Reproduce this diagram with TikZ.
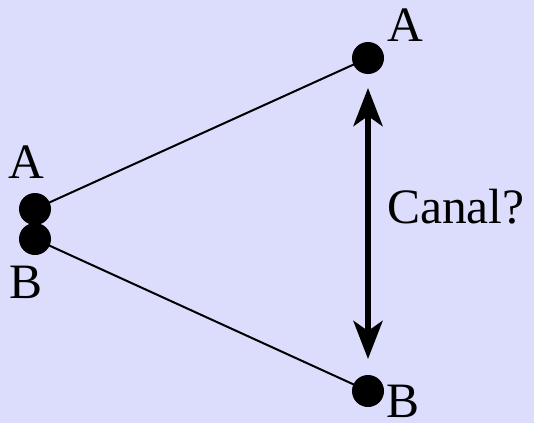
\documentclass[tikz,border=0pt]{standalone}
\usepackage{fontspec}
\setmainfont{Liberation Serif}
\usetikzlibrary{arrows.meta}
\definecolor{bg}{RGB}{220,220,252}
\begin{document}
\begin{tikzpicture}[x=1pt,y=-1pt,
  dot/.style={circle,fill=black,inner sep=0pt,minimum size=32pt},
  lbl/.style={anchor=base west,inner sep=0pt,font=\fontsize{49.5}{58}\selectfont},
  link/.style={line width=2pt},
  canal/.style={line width=6pt,{Stealth[length=38pt,width=29pt,inset=10pt]}-{Stealth[length=38pt,width=29pt,inset=10pt]}}]
\fill[bg] (0,0) rectangle (534,423);
\useasboundingbox (0,0) rectangle (534,423);
\coordinate (la) at (35,209);
\coordinate (lb) at (35,239);
\coordinate (ra) at (368,58);
\coordinate (rb) at (368,391);
\draw[link] (la) -- (ra);
\draw[link] (lb) -- (rb);
\node[dot] (dla) at (la) {};
\node[dot] (dlb) at (lb) {};
\node[dot] (dra) at (ra) {};
\node[dot] (drb) at (rb) {};
\coordinate (ctop) at (368,88);
\coordinate (cbot) at (368,359);
\draw[canal] (ctop) -- (cbot);
\node[lbl] (tla) at (8,178) {A};
\node[lbl] (tlb) at (9,298) {B};
\node[lbl] (tra) at (387,41) {A};
\node[lbl] (trb) at (386,417) {B};
\node[lbl] (tc) at (387,223) {Canal?};
\end{tikzpicture}
\end{document}
